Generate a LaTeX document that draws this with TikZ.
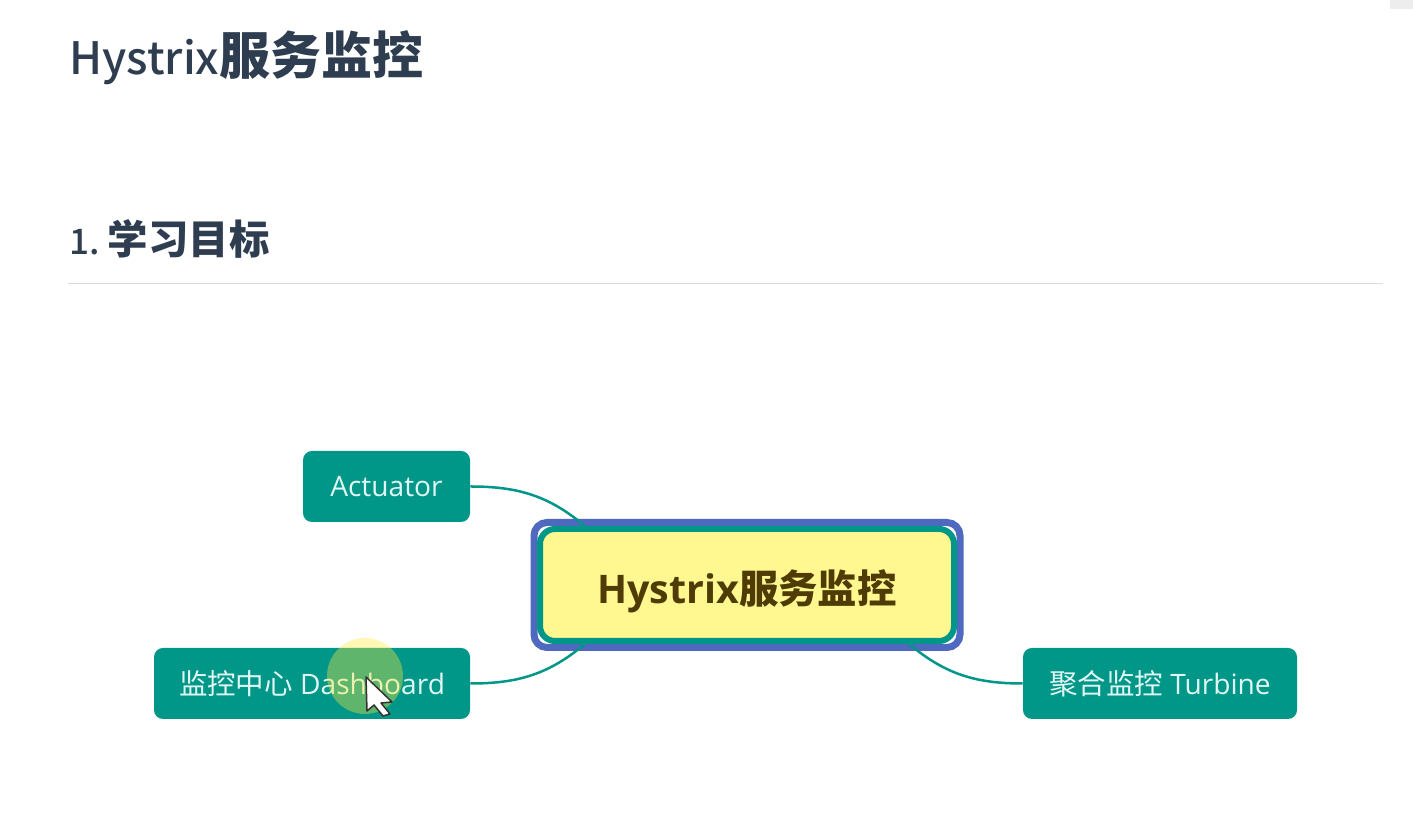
\documentclass[tikz,border=0pt]{standalone}
\usepackage{fontspec}
\setmainfont{Open Sans}
\newfontfamily\cjk{Noto Sans CJK SC}
\newfontfamily\cjkmid{Noto Sans CJK SC Medium}
\usepackage{xcolor}
\usepackage{tikz}
\definecolor{headink}{HTML}{2F3D50}
\definecolor{ruleink}{HTML}{D8DBDF}
\definecolor{leafteal}{HTML}{009688}
\definecolor{ringblue}{HTML}{4F68C0}
\definecolor{hubfill}{HTML}{FFF78F}
\definecolor{hubink}{HTML}{4E3B06}
\definecolor{leafink}{HTML}{E0F7F4}
\definecolor{haloyellow}{HTML}{FFEB3B}

\begin{document}
\begin{tikzpicture}
    \tikzset{heading/.style = {anchor=west,inner sep=0pt,text=headink}}
    \tikzset{leaf/.style = {shape=rectangle,rounded corners=0.18cm,fill=leafteal,text=leafink,minimum height=1.42cm,inner sep=0pt,font=\fontsize{16}{18}\selectfont}}
    \tikzset{hub/.style = {shape=rectangle,rounded corners=0.3cm,draw=leafteal,line width=0.12cm,fill=hubfill,text=hubink,minimum width=8.28cm,minimum height=2.24cm,inner sep=0pt,text height=0.85cm,text depth=0.09cm,font=\fontsize{22.4}{26}\selectfont\bfseries}}
    \tikzset{ring/.style = {shape=rectangle,rounded corners=0.26cm,draw=ringblue,line width=0.14cm,minimum width=8.52cm,minimum height=2.5cm,inner sep=0pt}}
    \tikzset{edge/.style = {draw=leafteal,line width=0.05cm}}
    \useasboundingbox[fill=white] (0,0) rectangle (28.26,16.58);
    % page
    \fill[black!7] (27.8,16.58) rectangle (28.26,16.4);
    \node[heading] (title) at (1.38,15.42) {{\cjkmid\fontsize{25.4}{32}\selectfont Hystrix{\cjk\fontsize{29}{32}\selectfont\bfseries 服务监控}}};
    \node[heading] (section) at (1.38,11.8) {{\cjkmid\fontsize{20}{28}\selectfont 1.\ {\cjk\fontsize{23}{28}\selectfont\bfseries 学习目标}}};
    \draw[ruleink,line width=0.03cm] (1.36,10.91) -- (27.66,10.91);
    % vertices
    \node[ring] (halo) at (14.94,4.88) {};
    \node[hub] (main) at (14.94,4.88) {Hystrix{\cjk 服务监控}};
    \node[leaf,minimum width=3.34cm] (actuator) at (7.73,6.85) {Actuator};
    \node[leaf,minimum width=6.32cm] (dashboard) at (6.24,2.91) {{\cjk\fontsize{16.2}{18}\selectfont 监控中心} Dashboard};
    \node[leaf,minimum width=5.48cm] (turbine) at (23.2,2.91) {{\cjk\fontsize{16.2}{18}\selectfont 聚合监控} Turbine};
    %edges
    \draw[edge] (actuator.east) to [out=0,in=140] (main.160);
    \draw[edge] (dashboard.east) to [out=0,in=220] (main.200);
    \draw[edge] (turbine.west) to [out=180,in=320] (main.340);
    % pointer
    \fill[haloyellow,opacity=0.37] (7.3,3.06) circle (0.76);
    \draw[black!80,fill=white,line width=0.03cm,line join=round] (7.32,3.04) -- (7.84,2.54) -- (7.62,2.52) -- (7.8,2.3) -- (7.66,2.26) -- (7.48,2.48) -- (7.34,2.36) -- cycle;
    \end{tikzpicture}
\end{document}
